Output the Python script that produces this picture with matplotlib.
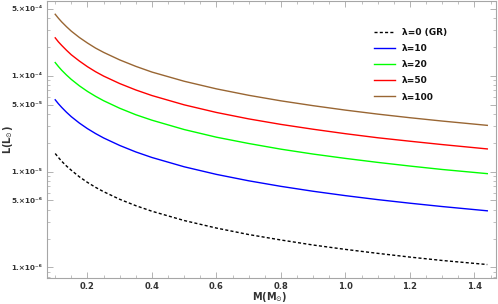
import numpy as np
import matplotlib
matplotlib.use('Agg')
import matplotlib.pyplot as plt
from matplotlib.ticker import FixedLocator, LogLocator, NullFormatter, MultipleLocator

# masses (solar units)
mass = [0.1, 0.11, 0.12, 0.135, 0.15, 0.175, 0.2, 0.225, 0.25, 0.3, 0.35, 0.4,
        0.5, 0.6, 0.7, 0.8, 0.9, 1.0, 1.1, 1.2, 1.3, 1.44]

# luminosities (solar units)
lum_gr = [1.54e-5, 1.40e-5, 1.28e-5, 1.14e-5, 1.03e-5, 8.8e-6, 7.7e-6, 6.84e-6,
          6.16e-6, 5.13e-6, 4.4e-6, 3.85e-6, 3.08e-6, 2.57e-6, 2.2e-6, 1.93e-6,
          1.71e-6, 1.54e-6, 1.4e-6, 1.28e-6, 1.18e-6, 1.07e-6]
lum_10 = [5.6e-5, 5.09e-5, 4.67e-5, 4.15e-5, 3.73e-5, 3.2e-5, 2.8e-5, 2.49e-5,
          2.24e-5, 1.87e-5, 1.6e-5, 1.4e-5, 1.12e-5, 9.33e-6, 8.0e-6, 7.0e-6,
          6.22e-6, 5.6e-6, 5.09e-6, 4.67e-6, 4.31e-6, 3.89e-6]
lum_20 = [1.37e-4, 1.245e-4, 1.14e-4, 1.015e-4, 9.13e-5, 7.83e-5, 6.85e-5, 6.09e-5,
          5.48e-5, 4.57e-5, 3.91e-5, 3.43e-5, 2.74e-5, 2.28e-5, 1.96e-5, 1.71e-5,
          1.52e-5, 1.37e-5, 1.245e-5, 1.14e-5, 1.05e-5, 9.5e-6]
lum_50 = [2.48e-4, 2.25e-4, 2.07e-4, 1.84e-4, 1.65e-4, 1.42e-4, 1.24e-4, 1.10e-4,
          9.9e-5, 8.27e-5, 7.09e-5, 6.2e-5, 4.96e-5, 4.13e-5, 3.54e-5, 3.1e-5,
          2.76e-5, 2.48e-5, 2.25e-5, 2.07e-5, 1.91e-5, 1.72e-5]
lum_100 = [4.37e-4, 3.97e-4, 3.64e-4, 3.24e-4, 2.91e-4, 2.5e-4, 2.19e-4, 1.94e-4,
           1.75e-4, 1.46e-4, 1.25e-4, 1.09e-4, 8.74e-5, 7.28e-5, 6.24e-5, 5.46e-5,
           4.86e-5, 4.37e-5, 3.97e-5, 3.64e-5, 3.36e-5, 3.03e-5]

labels = ['λ=0 (GR)', 'λ=10', 'λ=20', 'λ=50', 'λ=100']

ytick_vals = [1e-6, 5e-6, 1e-5, 5e-5, 1e-4, 5e-4]
ytick_labels = ['1.×10⁻⁶', '5.×10⁻⁶', '1.×10⁻⁵', '5.×10⁻⁵', '1.×10⁻⁴', '5.×10⁻⁴']
xtick_vals = [0.2, 0.4, 0.6, 0.8, 1.0, 1.2, 1.4]

frame_col = '#a6a6a6'
text_col = '#333333'

fig = plt.figure(figsize=(4.98, 3.04), dpi=100)
ax = fig.add_axes([46.5 / 498, 26 / 304, 449.5 / 498, 277.5 / 304])

ax.plot(mass, lum_gr, color='black', lw=1.0, ls=(0, (2.2, 1.6)), label=labels[0])
ax.plot(mass, lum_10, color='#0000ff', lw=1.0, label=labels[1])
ax.plot(mass, lum_20, color='#00ff00', lw=1.0, label=labels[2])
ax.plot(mass, lum_50, color='#ff0000', lw=1.0, label=labels[3])
ax.plot(mass, lum_100, color='#996633', lw=1.0, label=labels[4])

ax.set_yscale('log')
ax.set_xlim(0.073, 1.467)
ax.set_ylim(10 ** -6.111, 10 ** -3.216)

ax.yaxis.set_major_locator(FixedLocator(ytick_vals))
ax.set_yticklabels(ytick_labels)
ax.yaxis.set_minor_locator(LogLocator(base=10, subs=[2, 3, 4, 6, 7, 8, 9]))
ax.yaxis.set_minor_formatter(NullFormatter())
ax.xaxis.set_major_locator(FixedLocator(xtick_vals))
ax.set_xticklabels(['0.2', '0.4', '0.6', '0.8', '1.0', '1.2', '1.4'])
ax.xaxis.set_minor_locator(MultipleLocator(0.05))

for s in ax.spines.values():
    s.set_color(frame_col)
    s.set_linewidth(0.8)

ax.tick_params(which='both', direction='in', top=True, right=True, color=frame_col,
               labelcolor=text_col)
ax.tick_params(axis='x', labelsize=6)
ax.tick_params(axis='y', labelsize=5.2)
ax.tick_params(which='major', length=4, width=0.6, pad=3)
ax.tick_params(which='minor', length=2, width=0.5)
for t in ax.get_xticklabels() + ax.get_yticklabels():
    t.set_fontweight('bold')

ax.set_xlabel('M(M$_{\\odot}$)', fontsize=7, fontweight='bold', color=text_col)
ax.set_ylabel('L(L$_{\\odot}$)', fontsize=7, fontweight='bold', color=text_col)
ax.xaxis.set_label_coords(0.497, -0.043)
ax.yaxis.set_label_coords(-0.07, 0.5)

leg = ax.legend(loc='upper left', bbox_to_anchor=(0.72, 0.915), frameon=False,
                fontsize=6.5, handlelength=2.3, labelspacing=0.8, handletextpad=0.8,
                borderaxespad=0)
for t in leg.get_texts():
    t.set_fontweight('bold')
    t.set_color('#111111')

fig.savefig('out.png', dpi=100)
